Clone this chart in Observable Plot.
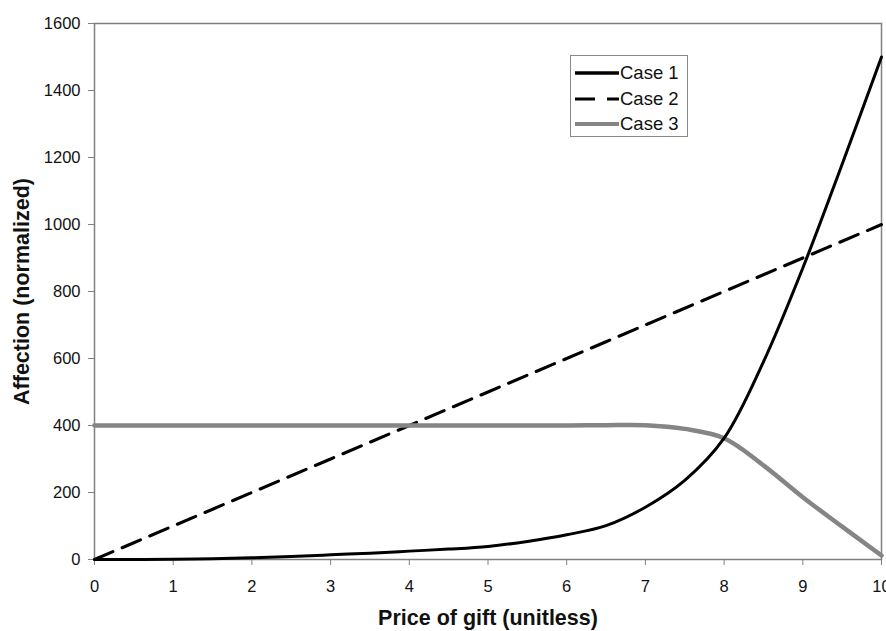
<!DOCTYPE html>
<html>
<head>
<meta charset="utf-8">
<script src="https://cdn.jsdelivr.net/npm/d3@7"></script>
<script src="https://cdn.jsdelivr.net/npm/@observablehq/plot@0.6"></script>
<style>
  body { margin: 0; background: #fff; font-family: "Liberation Sans", Arial, sans-serif; }
  #wrap { position: relative; width: 886px; height: 631px; }
  #legend { position: absolute; left: 570px; top: 55px; width: 118px; height: 82px;
            border: 1px solid #888; background: #fff; box-sizing: border-box; }
  .row { position: absolute; left: 4px; height: 20px; display: flex; align-items: center;
         font-size: 18.5px; color: #111; }
  .row svg { margin-right: 1px; }
</style>
</head>
<body>
<div id="wrap"></div>
<script>
const xs    = [0, 0.5, 1, 1.5, 2, 2.5, 3, 3.5, 4, 4.5, 5, 5.5, 6, 6.5, 7, 7.5, 8, 8.5, 9, 9.5, 10];
const case1 = [0, 0, 1, 2, 5, 9, 14, 19, 25, 31, 39, 54, 74, 101, 156, 236, 362, 590, 870, 1180, 1500];
const case2 = [0, 50, 100, 150, 200, 250, 300, 350, 400, 450, 500, 550, 600, 650, 700, 750, 800, 850, 900, 950, 1000];
const case3 = [400, 400, 400, 400, 400, 400, 400, 400, 400, 400, 400, 400, 400, 401, 401, 390, 362, 281, 186, 98, 12];
const seriesNames = ["Case 1", "Case 2", "Case 3"];
const xTicks = [0, 1, 2, 3, 4, 5, 6, 7, 8, 9, 10];
const yTicks = [0, 200, 400, 600, 800, 1000, 1200, 1400, 1600];
const xTitle = "Price of gift (unitless)";
const yTitle = "Affection (normalized)";

const rows = xs.map((x, i) => ({x, c1: case1[i], c2: case2[i], c3: case3[i]}));

const chart = Plot.plot({
  width: 886, height: 631,
  marginLeft: 94, marginRight: 5, marginTop: 23, marginBottom: 72,
  style: {fontFamily: "'Liberation Sans', Arial, sans-serif", fontSize: "16.5px", color: "#000", background: "#fff"},
  x: {domain: [0, 10]},
  y: {domain: [0, 1600]},
  marks: [
    Plot.axisX({ticks: xTicks, tickFormat: d => String(d), tickSize: 6, tickPadding: 15, stroke: "#808080", fill: "#111", label: null, fontSize: 16.5}),
    Plot.axisY({ticks: yTicks, tickFormat: d => String(d), tickSize: 6, tickPadding: 8, stroke: "#808080", fill: "#111", label: null, fontSize: 16.5}),
    Plot.frame({stroke: "#808080", strokeWidth: 1.5}),
    Plot.line(rows, {x: "x", y: "c2", stroke: "#000", strokeWidth: 3, strokeDasharray: "20,10"}),
    Plot.line(rows, {x: "x", y: "c3", stroke: "#858585", strokeWidth: 4.5, curve: "catmull-rom"}),
    Plot.line(rows, {x: "x", y: "c1", stroke: "#000", strokeWidth: 3, curve: "catmull-rom"}),
    Plot.text([xTitle], {frameAnchor: "bottom", lineAnchor: "middle", textAnchor: "middle", dy: 59, fontWeight: "bold", fontSize: 21.5, fill: "#111"}),
    Plot.text([yTitle], {frameAnchor: "left", lineAnchor: "middle", textAnchor: "middle", dx: -72, rotate: -90, fontWeight: "bold", fontSize: 21.5, fill: "#111"})
  ]
});
const wrap = document.getElementById("wrap");
wrap.appendChild(chart);

// legend
const legend = document.createElement("div");
legend.id = "legend";
const samples = [
  {stroke: "#000", width: 3.5, dash: null},
  {stroke: "#000", width: 3, dash: "20,12"},
  {stroke: "#858585", width: 4, dash: null}
];
seriesNames.forEach((name, i) => {
  const row = document.createElement("div");
  row.className = "row";
  row.style.top = (7 + i * 25.5) + "px";
  const s = samples[i];
  row.innerHTML = `<svg width="44" height="10"><line x1="0" x2="44" y1="5" y2="5" stroke="${s.stroke}" stroke-width="${s.width}" ${s.dash ? `stroke-dasharray="${s.dash}"` : ""}/></svg><span>${name}</span>`;
  legend.appendChild(row);
});
wrap.appendChild(legend);
</script>
</body>
</html>
